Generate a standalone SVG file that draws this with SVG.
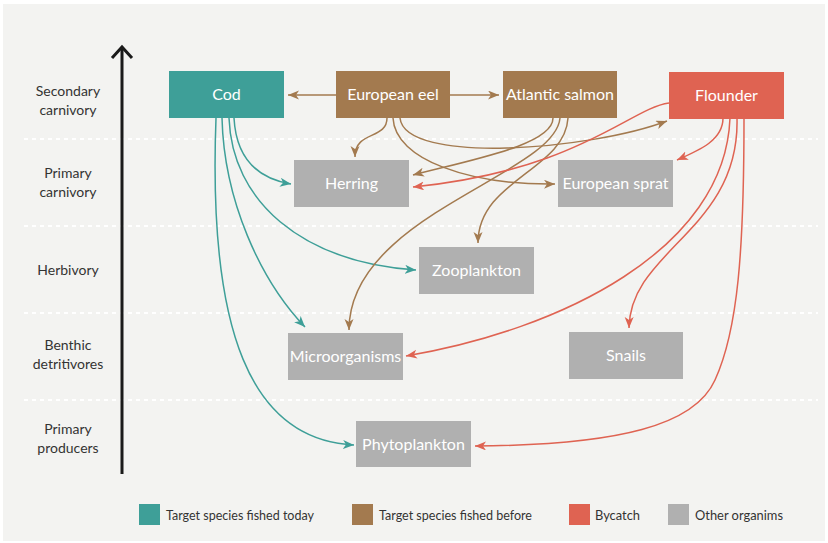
<svg xmlns="http://www.w3.org/2000/svg" width="828" height="543" viewBox="0 0 828 543">
<defs>
<style>
.node text{font-family:Lato,"Liberation Sans",sans-serif;font-size:16px;fill:#fff;text-anchor:middle}
.lvl{font-family:Lato,"Liberation Sans",sans-serif;font-size:14px;fill:#333;text-anchor:middle}
.leg{font-family:Lato,"Liberation Sans",sans-serif;font-size:13.5px;fill:#333}
.sep{stroke:#fff;stroke-width:2;stroke-dasharray:4 4}
.teal{fill:#3e9f98}.brown{fill:#a37a4f}.red{fill:#df6352}.gray{fill:#b0b0b0}
#connectors path{fill:none;stroke-width:1.5}
.ct{stroke:#3e9f98;marker-end:url(#aT)}
.cb{stroke:#a37a4f;marker-end:url(#aB)}
.cr{stroke:#df6352;marker-end:url(#aR)}
</style>
<marker id="aT" markerUnits="userSpaceOnUse" markerWidth="12" markerHeight="10" refX="11" refY="4.5" orient="auto"><path d="M0,0 L11,4.5 L0,9 L3,4.5 z" fill="#3e9f98"/></marker>
<marker id="aB" markerUnits="userSpaceOnUse" markerWidth="12" markerHeight="10" refX="11" refY="4.5" orient="auto"><path d="M0,0 L11,4.5 L0,9 L3,4.5 z" fill="#a37a4f"/></marker>
<marker id="aR" markerUnits="userSpaceOnUse" markerWidth="12" markerHeight="10" refX="11" refY="4.5" orient="auto"><path d="M0,0 L11,4.5 L0,9 L3,4.5 z" fill="#df6352"/></marker>
</defs>
<rect x="0" y="0" width="828" height="543" fill="#fff"/>
<rect x="3" y="4" width="822" height="537" fill="#f3f3f1"/>
<g id="separators">
<line class="sep" x1="24" y1="139" x2="818" y2="139"/>
<line class="sep" x1="24" y1="226" x2="818" y2="226"/>
<line class="sep" x1="24" y1="313" x2="818" y2="313"/>
<line class="sep" x1="24" y1="400" x2="818" y2="400"/>
</g>
<g id="axis" stroke="#1a1a1a" stroke-width="3" fill="none">
<line x1="122" y1="48" x2="122" y2="474"/>
<polyline points="112,58 122,47 132,58"/>
</g>
<g id="levels">
<text class="lvl" x="68" y="96">Secondary</text><text class="lvl" x="68" y="114.5">carnivory</text>
<text class="lvl" x="68" y="178">Primary</text><text class="lvl" x="68" y="197">carnivory</text>
<text class="lvl" x="68" y="275">Herbivory</text>
<text class="lvl" x="68" y="350">Benthic</text><text class="lvl" x="68" y="369">detritivores</text>
<text class="lvl" x="68" y="434">Primary</text><text class="lvl" x="68" y="452.5">producers</text>
</g>
<g id="connectors">
<path class="ct" d="M234,118 C236,155 255,178 291,184"/>
<path class="ct" d="M229,118 C232,200 300,262 416,270"/>
<path class="ct" d="M222,118 C224,200 260,280 305,327"/>
<path class="ct" d="M216,118 C208,330 250,440 354,445"/>
<path class="cb" d="M336,95 L288,95"/>
<path class="cb" d="M450,95 L499,95"/>
<path class="cb" d="M387,118 C387,140 355,130 355,157"/>
<path class="cb" d="M393,118 C395,160 470,185 555,184"/>
<path class="cb" d="M400,118 C405,165 590,150 667,121"/>
<path class="cb" d="M553,118 C553,145 470,160 413,175"/>
<path class="cb" d="M560,118 C555,175 349,215 349,330"/>
<path class="cb" d="M568,118 C565,170 478,180 478,243"/>
<path class="cr" d="M669,103 C630,108 580,170 413,187"/>
<path class="cr" d="M723,118 C723,140 700,150 677,160"/>
<path class="cr" d="M730,118 C725,250 560,330 406,356"/>
<path class="cr" d="M737,118 C740,230 630,250 629,328"/>
<path class="cr" d="M744,118 C744,250 738,330 715,380 C695,425 620,445 475,446"/>
</g>
<g id="cod" class="node"><rect class="teal" x="169" y="71" width="115" height="47"/><text x="226.5" y="100">Cod</text></g>
<g id="european-eel" class="node"><rect class="brown" x="336" y="71" width="114" height="47"/><text x="393" y="100">European eel</text></g>
<g id="atlantic-salmon" class="node"><rect class="brown" x="503" y="71" width="114" height="47"/><text x="560" y="100">Atlantic salmon</text></g>
<g id="flounder" class="node"><rect class="red" x="669" y="72" width="115" height="47"/><text x="726.5" y="101">Flounder</text></g>
<g id="herring" class="node"><rect class="gray" x="294" y="160" width="115" height="47"/><text x="351.5" y="189">Herring</text></g>
<g id="european-sprat" class="node"><rect class="gray" x="558" y="160" width="115" height="47"/><text x="615.5" y="189">European sprat</text></g>
<g id="zooplankton" class="node"><rect class="gray" x="419" y="247" width="115" height="47"/><text x="476.5" y="276">Zooplankton</text></g>
<g id="microorganisms" class="node"><rect class="gray" x="288" y="333" width="115" height="47"/><text x="345.5" y="362">Microorganisms</text></g>
<g id="snails" class="node"><rect class="gray" x="569" y="332" width="114" height="47"/><text x="626" y="361">Snails</text></g>
<g id="phytoplankton" class="node"><rect class="gray" x="356" y="421" width="115" height="46"/><text x="413.5" y="449.5">Phytoplankton</text></g>
<g id="legend">
<rect class="teal" x="139" y="504" width="21" height="21"/><text class="leg" x="166" y="520" textLength="148" lengthAdjust="spacingAndGlyphs">Target species fished today</text>
<rect class="brown" x="352" y="504" width="21" height="21"/><text class="leg" x="379" y="520" textLength="153" lengthAdjust="spacingAndGlyphs">Target species fished before</text>
<rect class="red" x="569" y="504" width="21" height="21"/><text class="leg" x="595" y="520" textLength="45" lengthAdjust="spacingAndGlyphs">Bycatch</text>
<rect class="gray" x="668" y="504" width="21" height="21"/><text class="leg" x="695" y="520" textLength="88" lengthAdjust="spacingAndGlyphs">Other organims</text>
</g>
</svg>
